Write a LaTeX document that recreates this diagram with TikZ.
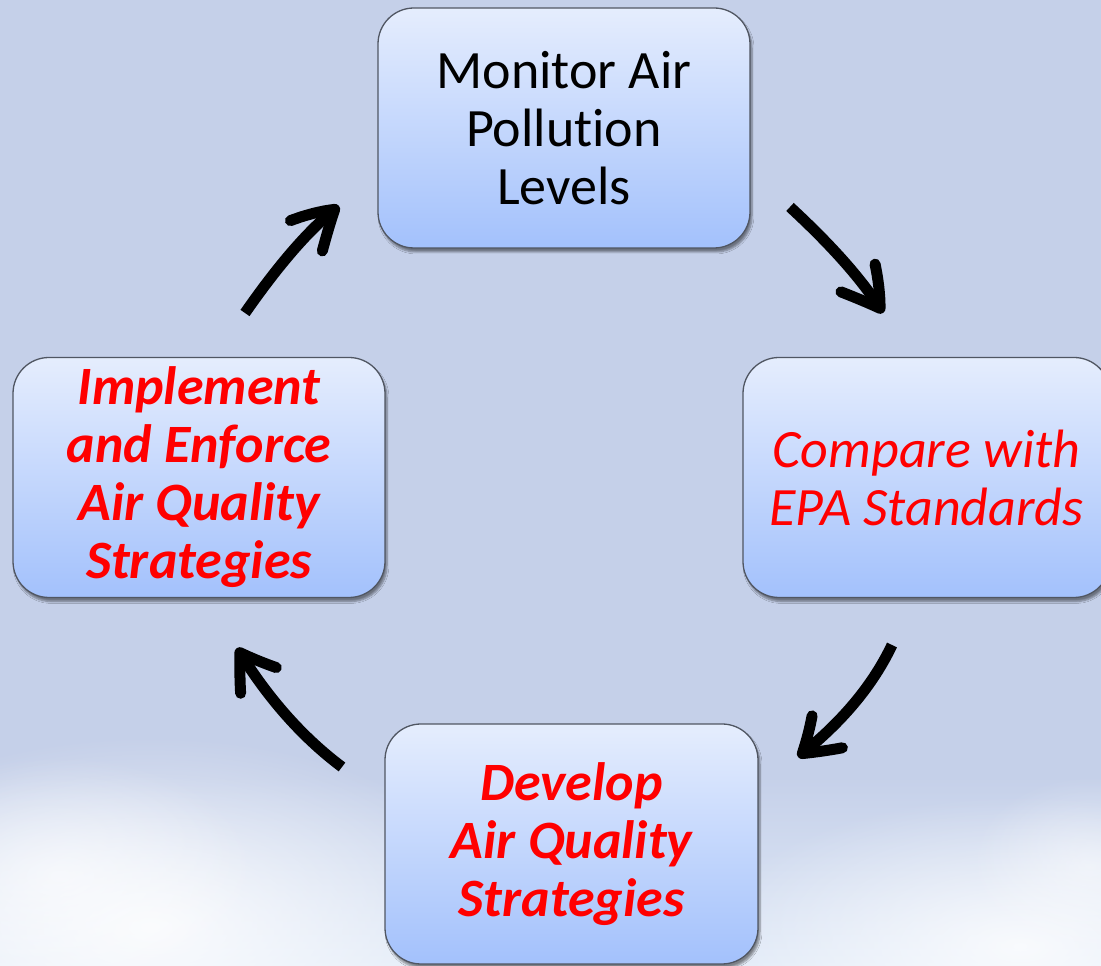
\documentclass[tikz,border=0pt]{standalone}
\usepackage{fontspec}
\setmainfont{Carlito}[Ligatures=NoCommon]
\usetikzlibrary{arrows.meta,bending,shadows.blur,fadings}
\tikzfading[name=puff, inner color=transparent!0, outer color=transparent!100]
\definecolor{bg}{RGB}{197,208,233}
\definecolor{cloud}{RGB}{226,235,248}
\definecolor{boxtop}{RGB}{229,237,253}
\definecolor{boxbot}{RGB}{163,193,252}
\definecolor{boxline}{RGB}{80,86,98}
\definecolor{txtred}{RGB}{255,0,0}
\tikzset{
  stagebox/.style={draw=boxline, line width=1.3pt, rounded corners=36pt,
    top color=boxtop, bottom color=boxbot, minimum height=240pt,
    align=center, inner sep=0pt,
    blur shadow={shadow xshift=2pt, shadow yshift=-4pt, shadow opacity=45, shadow blur steps=6}},
  plaintext/.style={font=\fontsize{54}{58}\selectfont, text=black},
  redit/.style={font=\fontsize{54}{58}\selectfont\itshape, text=txtred},
  redbf/.style={font=\fontsize{54}{58}\selectfont\bfseries\itshape, text=txtred},
  cyclearrow/.style={line width=11pt, draw=black,
    -{Straight Barb[length=34pt,width=44pt,round,bend]}},
  cloudpuff/.style={fill=white, draw=none, path fading=puff}
}
\begin{document}
\begin{tikzpicture}[x=1pt,y=1pt]
\useasboundingbox (0,0) rectangle (1101,966);
% background
\fill[bg] (0,0) rectangle (1101,966);
\shade[top color=bg, bottom color=cloud] (0,0) rectangle (1101,190);
\fill[cloudpuff, opacity=0.85] (150,40) ellipse [x radius=360, y radius=190];
\fill[cloudpuff, opacity=0.6] (60,90) ellipse [x radius=200, y radius=120];
\fill[cloudpuff, opacity=0.8] (1020,20) ellipse [x radius=320, y radius=150];
\fill[cloudpuff, opacity=0.5] (1090,100) ellipse [x radius=120, y radius=90];
% boxes
\node[stagebox, minimum width=372pt, plaintext] (monitor) at (564,838)
  {Monitor Air\\Pollution\\Levels};
\node[stagebox, minimum width=367pt, redit] (compare) at (926.5,488.5)
  {Compare with\\EPA Standards};
\node[stagebox, minimum width=373pt, redbf] (develop) at (571.5,122)
  {Develop\\Air Quality\\Strategies};
\node[stagebox, minimum width=372pt, redbf] (implement) at (199,488.5)
  {Implement\\and Enforce\\Air Quality\\Strategies};
% arrow end points
\coordinate (a1s) at (245,653);
\coordinate (a1e) at (339,760);
\coordinate (a2s) at (790,759);
\coordinate (a2e) at (883,653);
\coordinate (a3s) at (892,321);
\coordinate (a3e) at (798,209);
\coordinate (a4s) at (342,199);
\coordinate (a4e) at (237,318);
\draw[cyclearrow] (a1s) .. controls (280.3,703.7) and (311.7,739.3) .. (a1e);
\draw[cyclearrow] (a2s) .. controls (833.3,719) and (864.3,683.7) .. (a2e);
\draw[cyclearrow] (a3s) .. controls (872.7,280.3) and (841.3,243) .. (a3e);
\draw[cyclearrow] (a4s) .. controls (302,229) and (267,268.7) .. (a4e);
\end{tikzpicture}
\end{document}
